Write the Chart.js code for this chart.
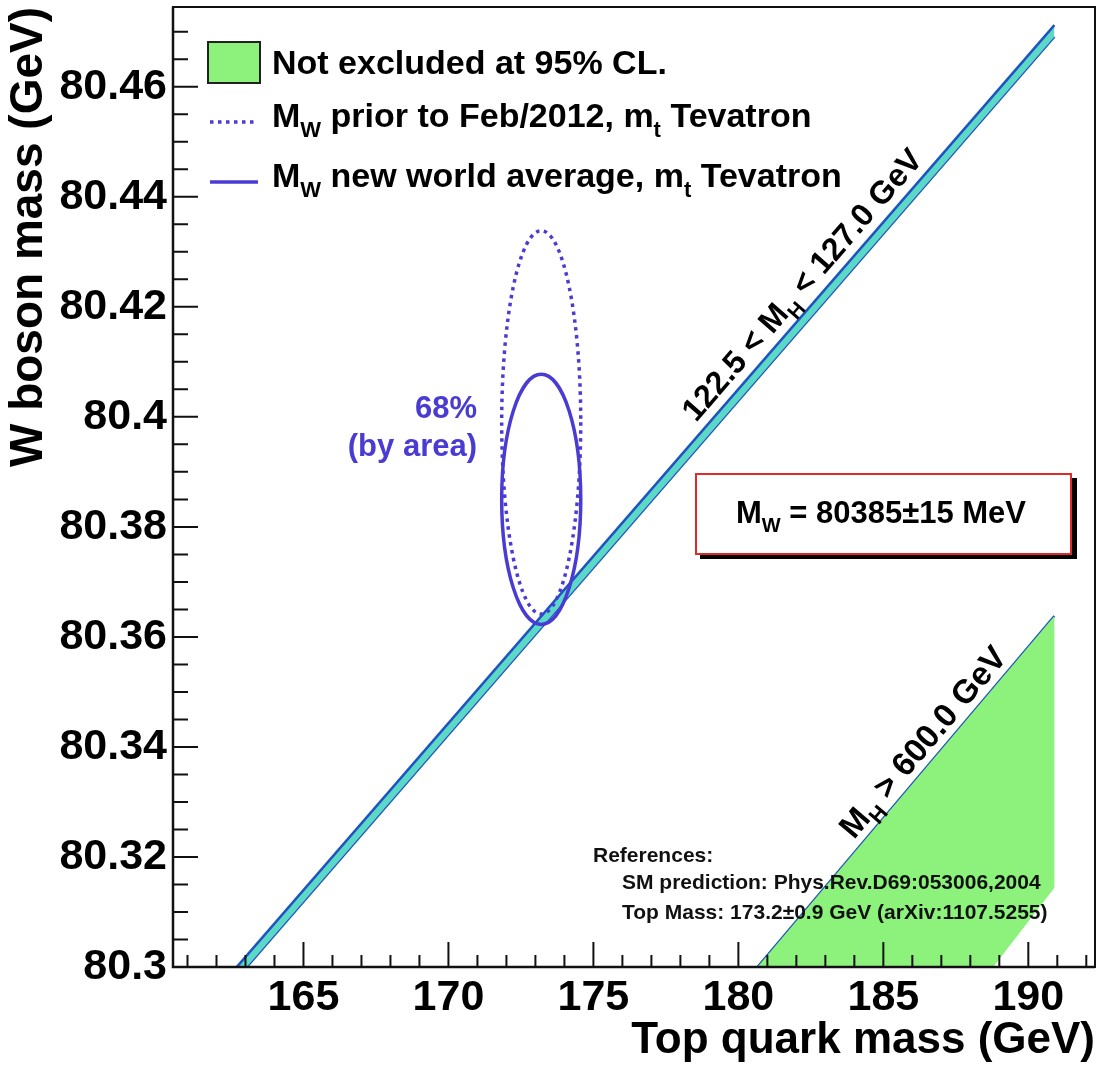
<!DOCTYPE html>
<html>
<head>
<meta charset="utf-8">
<script src="https://cdn.jsdelivr.net/npm/chart.js@4.4.1/dist/chart.umd.min.js"></script>
<style>
  html, body { margin: 0; padding: 0; background: #ffffff; }
  #wrap { width: 1100px; height: 1071px; }
</style>
</head>
<body>
<div id="wrap"><canvas id="mw" width="1100" height="1071"></canvas></div>
<script>
// ---- axes ----
const xRange = [160.5, 192.3];
const yRange = [80.3, 80.4745];
const xTicks = [165, 170, 175, 180, 185, 190];
const xTickLabels = ['165', '170', '175', '180', '185', '190'];
const yTicks = [80.30, 80.32, 80.34, 80.36, 80.38, 80.40, 80.42, 80.44, 80.46];
const yTickLabels = ['80.3', '80.32', '80.34', '80.36', '80.38', '80.4', '80.42', '80.44', '80.46'];
const xMinorStep = 1;
const yMinorStep = 0.005;

// ---- SM prediction band, 122.5 < MH < 127.0 GeV (two edges) ----
const bandHighX = [162.5, 190.9];
const bandHighY = [80.2988, 80.4712];
const bandLowX = [162.5, 190.9];
const bandLowY = [80.2967, 80.4691];

// ---- MH > 600 GeV edge and the not-excluded region beyond it ----
const heavyX = [180.66, 190.9];
const heavyY = [80.3, 80.3638];
const notExclX = [180.66, 190.9, 190.9, 188.79, 180.66];
const notExclY = [80.3, 80.3638, 80.3144, 80.3, 80.3];

// ---- measurements: value, uncertainty (GeV) ----
const topMass = [173.2, 0.9];
const mwNew = [80.385, 0.015];
const mwOld = [80.399, 0.023];
const area68 = 1.515;   // 68% of a 2D gaussian by area: sqrt(-2 ln 0.32)

const FONT = '"Liberation Sans", Arial, Helvetica, sans-serif';
const C_GREEN = '#8cf27c';
const C_BLUE = '#1f52c2';
const C_CYAN = '#5cd8c6';
const C_ELL = '#4a3cd2';
const C_RED = '#e02a2a';

const pts = (xs, ys) => xs.map((x, i) => ({ x: x, y: ys[i] }));

// text runs with optional subscripts
function runWidth(ctx, parts, size) {
  let w = 0;
  for (const p of parts) {
    ctx.font = 'bold ' + (p.sub ? Math.round(size * 0.66) : size) + 'px ' + FONT;
    w += ctx.measureText(p.t).width;
  }
  return w;
}
function drawRun(ctx, parts, x, y, size, color, align) {
  const w = runWidth(ctx, parts, size);
  let cx = align === 'right' ? x - w : (align === 'center' ? x - w / 2 : x);
  ctx.fillStyle = color;
  ctx.textBaseline = 'alphabetic';
  ctx.textAlign = 'left';
  for (const p of parts) {
    const s = p.sub ? Math.round(size * 0.66) : size;
    ctx.font = 'bold ' + s + 'px ' + FONT;
    ctx.fillText(p.t, cx, p.sub ? y + size * 0.28 : y);
    cx += ctx.measureText(p.t).width;
  }
}

const decorations = {
  id: 'decorations',
  afterDatasetsDraw(chart) {
    const ctx = chart.ctx, xs = chart.scales.x, ys = chart.scales.y, a = chart.chartArea;
    ctx.save();
    ctx.beginPath();
    ctx.rect(a.left, a.top, a.right - a.left, a.bottom - a.top);
    ctx.clip();
    // 68% contours
    const ell = (mw, dashed) => {
      const cx = xs.getPixelForValue(topMass[0]);
      const cy = ys.getPixelForValue(mw[0]);
      const rx = Math.abs(xs.getPixelForValue(topMass[0] + area68 * topMass[1]) - cx);
      const ry = Math.abs(ys.getPixelForValue(mw[0] + area68 * mw[1]) - cy);
      ctx.beginPath();
      ctx.ellipse(cx, cy, rx, ry, 0, 0, Math.PI * 2);
      ctx.strokeStyle = C_ELL;
      ctx.lineWidth = 3.5;
      ctx.setLineDash(dashed ? [3.5, 4.5] : []);
      ctx.stroke();
    };
    ell(mwOld, true);
    ell(mwNew, false);
    ctx.restore();
  },
  afterDraw(chart) {
    const ctx = chart.ctx, xs = chart.scales.x, ys = chart.scales.y, a = chart.chartArea;
    ctx.save();
    // frame
    ctx.strokeStyle = '#111';
    ctx.lineWidth = 2;
    ctx.setLineDash([]);
    ctx.strokeRect(a.left, a.top, a.right - a.left, a.bottom - a.top);
    ctx.lineWidth = 2.5;
    ctx.beginPath();
    ctx.moveTo(a.left, a.top); ctx.lineTo(a.left, a.bottom); ctx.lineTo(a.right, a.bottom);
    ctx.stroke();
    // inward ticks
    ctx.lineWidth = 2;
    ctx.beginPath();
    for (let v = Math.ceil(xRange[0]); v <= xRange[1]; v += xMinorStep) {
      const p = xs.getPixelForValue(v);
      const major = xTicks.includes(v);
      ctx.moveTo(p, a.bottom); ctx.lineTo(p, a.bottom - (major ? 25 : 12));
    }
    for (let k = 0; yRange[0] + k * yMinorStep <= yRange[1] + 1e-9; k++) {
      const v = yRange[0] + k * yMinorStep;
      const p = ys.getPixelForValue(v);
      const major = k % 4 === 0;
      ctx.moveTo(a.left, p); ctx.lineTo(a.left + (major ? 25 : 15), p);
    }
    ctx.stroke();

    // legend
    ctx.fillStyle = C_GREEN;
    ctx.fillRect(208, 42, 52, 41);
    ctx.strokeStyle = '#222';
    ctx.lineWidth = 2;
    ctx.strokeRect(208, 42, 52, 41);
    ctx.strokeStyle = C_ELL;
    ctx.lineWidth = 3.5;
    ctx.setLineDash([3.5, 4.5]);
    ctx.beginPath(); ctx.moveTo(210, 122); ctx.lineTo(258, 122); ctx.stroke();
    ctx.setLineDash([]);
    ctx.beginPath(); ctx.moveTo(210, 182); ctx.lineTo(258, 182); ctx.stroke();
    drawRun(ctx, [{ t: 'Not excluded at 95% CL.' }], 272, 74, 34, '#000', 'left');
    drawRun(ctx, [{ t: 'M' }, { t: 'W', sub: true }, { t: ' prior to Feb/2012, m' }, { t: 't', sub: true }, { t: ' Tevatron' }], 272, 127, 34, '#000', 'left');
    drawRun(ctx, [{ t: 'M' }, { t: 'W', sub: true }, { t: ' new world average, m' }, { t: 't', sub: true }, { t: ' Tevatron' }], 272, 187, 34, '#000', 'left');

    // contour label
    drawRun(ctx, [{ t: '68%' }], 477, 418, 31, C_ELL, 'right');
    drawRun(ctx, [{ t: '(by area)' }], 477, 456, 31, C_ELL, 'right');

    // labels along the lines
    const alongLine = (lx, ly, anchorX, anchorY, offset, parts, size) => {
      const x1 = xs.getPixelForValue(lx[0]), y1 = ys.getPixelForValue(ly[0]);
      const x2 = xs.getPixelForValue(lx[1]), y2 = ys.getPixelForValue(ly[1]);
      const ang = Math.atan2(y2 - y1, x2 - x1);
      ctx.save();
      ctx.translate(xs.getPixelForValue(anchorX), ys.getPixelForValue(anchorY));
      ctx.rotate(ang);
      drawRun(ctx, parts, 0, -offset, size, '#000', 'left');
      ctx.restore();
    };
    alongLine(bandHighX, bandHighY, 178.8, 80.3977, 10,
      [{ t: '122.5 < M' }, { t: 'H', sub: true }, { t: ' < 127.0 GeV' }], 32);
    alongLine(heavyX, heavyY, 184.2, 80.3221, 8,
      [{ t: 'M' }, { t: 'H', sub: true }, { t: ' > 600.0 GeV' }], 33);

    // result box with drop shadow
    ctx.fillStyle = '#000';
    ctx.fillRect(700, 478, 377, 81);
    ctx.fillStyle = '#fff';
    ctx.fillRect(695, 473, 377, 82);
    ctx.strokeStyle = C_RED;
    ctx.lineWidth = 2;
    ctx.strokeRect(696, 474, 375, 80);
    drawRun(ctx, [{ t: 'M' }, { t: 'W', sub: true }, { t: ' = 80385\u00b115 MeV' }], 881, 523, 31, '#000', 'center');

    // references
    ctx.fillStyle = '#111';
    ctx.textAlign = 'left';
    ctx.textBaseline = 'alphabetic';
    ctx.font = 'bold 21px ' + FONT;
    ctx.fillText('References:', 593, 862);
    ctx.fillText('SM prediction: Phys.Rev.D69:053006,2004', 622, 889);
    ctx.fillText('Top Mass: 173.2\u00b10.9 GeV (arXiv:1107.5255)', 622, 919);
    ctx.restore();
  }
};

const axisFont = { family: FONT, size: 43, weight: 'bold' };

new Chart(document.getElementById('mw'), {
  type: 'scatter',
  data: {
    datasets: [
      { data: pts(notExclX, notExclY), showLine: true, fill: 'shape', backgroundColor: C_GREEN,
        borderWidth: 0, pointRadius: 0, tension: 0 },
      { data: pts(heavyX, heavyY), showLine: true, fill: false, borderColor: C_BLUE,
        borderWidth: 2.5, pointRadius: 0 },
      { data: pts(bandHighX, bandHighY), showLine: true, fill: '+1', backgroundColor: C_CYAN,
        borderColor: C_BLUE, borderWidth: 2.5, pointRadius: 0 },
      { data: pts(bandLowX, bandLowY), showLine: true, fill: false, borderColor: C_BLUE,
        borderWidth: 2.5, pointRadius: 0 }
    ]
  },
  options: {
    responsive: false,
    animation: false,
    devicePixelRatio: 1,
    layout: { padding: { top: 7, right: 5, left: 0, bottom: 0 } },
    plugins: { legend: { display: false }, tooltip: { enabled: false } },
    scales: {
      x: {
        type: 'linear', position: 'bottom', min: xRange[0], max: xRange[1],
        grid: { display: false, drawTicks: false }, border: { display: false },
        afterBuildTicks(s) { s.ticks = xTicks.map(v => ({ value: v })); },
        afterFit(s) { s.height = 104; s.paddingLeft = 0; s.paddingRight = 0; },
        ticks: { autoSkip: false, maxRotation: 0, padding: 5, color: '#000', font: axisFont,
                 callback: (v, i) => xTickLabels[i] },
        title: { display: true, text: 'Top quark mass (GeV)', align: 'end', color: '#000',
                 font: { family: FONT, size: 44, weight: 'bold' }, padding: { top: 0, bottom: 4 } }
      },
      y: {
        type: 'linear', position: 'left', min: yRange[0], max: yRange[1],
        grid: { display: false, drawTicks: false }, border: { display: false },
        afterBuildTicks(s) { s.ticks = yTicks.map(v => ({ value: v })); },
        afterFit(s) { s.width = 173; s.paddingTop = 0; s.paddingBottom = 0; },
        ticks: { autoSkip: false, padding: 6, color: '#000', font: axisFont,
                 callback: (v, i) => yTickLabels[i] },
        title: { display: true, text: 'W boson mass (GeV)', align: 'end', color: '#000',
                 font: { family: FONT, size: 46, weight: 'bold' }, padding: { top: 2, bottom: 0 } }
      }
    }
  },
  plugins: [decorations]
});
</script>
</body>
</html>
